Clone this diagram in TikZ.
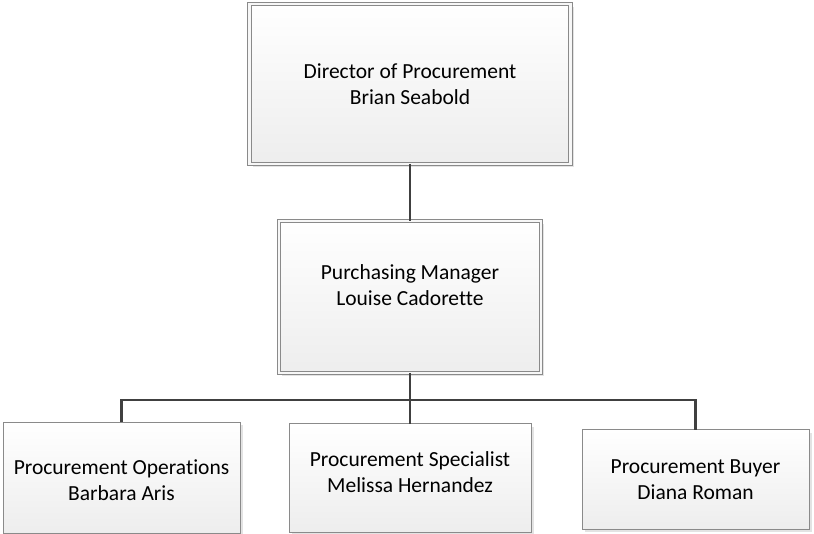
\documentclass[tikz,border=0pt]{standalone}
\usepackage{fontspec}
\setmainfont{Carlito}[Ligatures=NoCommon]
\usepackage{xcolor}
\usepackage{tikz}
\usetikzlibrary{positioning, shadows}
\definecolor{frame}{HTML}{8A8A8A}
\definecolor{wire}{HTML}{404040}
\tikzstyle{headbox} = [rectangle, outer sep=0pt, draw=frame, line width=0.9pt, double=white!97!black, double distance=2.6pt, top color=white, bottom color=black!7, drop shadow={shadow xshift=3pt, shadow yshift=-3pt, fill=black!18, opacity=0.6}, align=center]
\tikzstyle{staffbox} = [rectangle, outer sep=0pt, draw=frame, line width=1pt, top color=white, bottom color=black!7, drop shadow={shadow xshift=3pt, shadow yshift=-3pt, fill=black!18, opacity=0.6}, align=center]
\tikzstyle{caption} = [align=center, text=black, font=\fontsize{21.5}{26}\selectfont]
\tikzstyle{link} = [draw=wire, line width=2.5pt]

\begin{document}
\begin{tikzpicture}[x=1pt, y=-1pt]
\useasboundingbox (0,0) rectangle (814,534);
% Nodes
\node (dir) [headbox, minimum width=321pt, minimum height=160pt] at (410,84) {};
\node [caption] at (dir.center) {Director of Procurement\\Brian Seabold};
\node (mgr) [headbox, minimum width=262pt, minimum height=152pt, below=57pt of dir] {};
\node [caption, yshift=12pt] at (mgr.center) {Purchasing Manager\\Louise Cadorette};
\node (spec) [staffbox, minimum width=242pt, minimum height=108pt] at (410,478) {};
\node [caption, yshift=6pt] at (spec.center) {Procurement Specialist\\Melissa Hernandez};
\node (ops) [staffbox, minimum width=237pt, minimum height=111pt, left=49pt of spec] {};
\node [caption, yshift=-2pt] at (ops.center) {Procurement Operations\\Barbara Aris};
\node (buyer) [staffbox, minimum width=227pt, minimum height=99pt, right=51pt of spec, yshift=-1.5pt] {};
\node [caption] at (buyer.center) {Procurement Buyer\\Diana Roman};
\coordinate (bar) at (410,400);

% Connectors
\draw [link] (dir.south) -- (mgr.north);
\draw [link] (mgr.south) -- (bar);
\draw [link] (bar) -| (ops.north);
\draw [link] (bar) -| (buyer.north);
\draw [link] (bar) -- (spec.north);
\end{tikzpicture}
\end{document}
